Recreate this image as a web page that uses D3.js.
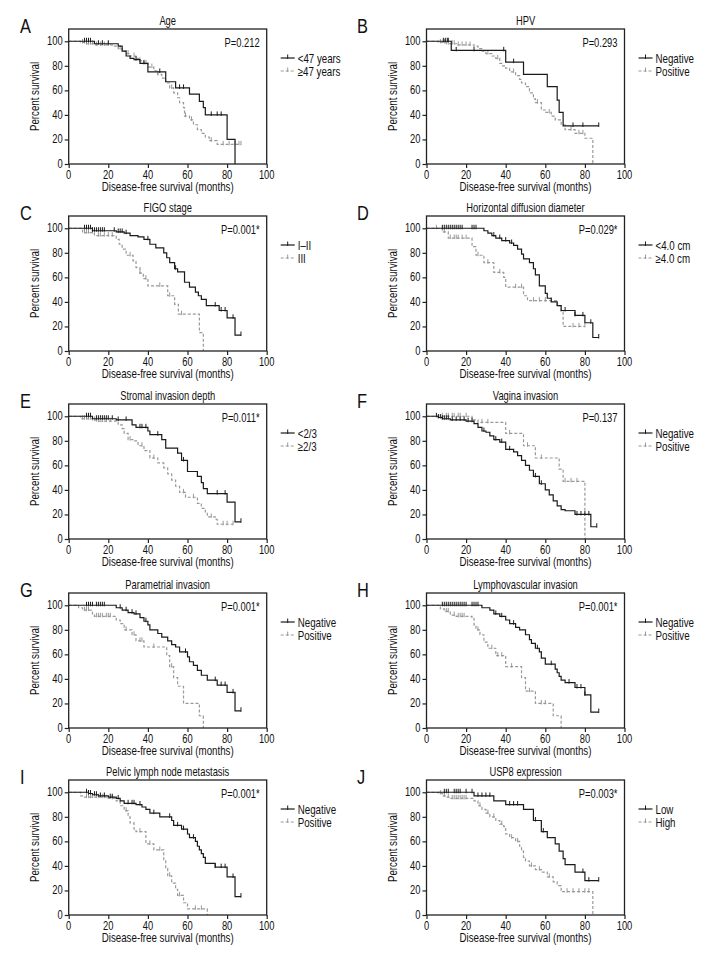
<!DOCTYPE html>
<html>
<head>
<meta charset="utf-8">
<script src="https://cdn.jsdelivr.net/npm/d3@7"></script>
<style>
body { margin: 0; background: #fff; }
text { font-family: "Liberation Sans", Arial, sans-serif; fill: #111; }
</style>
</head>
<body>
<script>
// step points [month, percent] and censor times
var ageYoung = [[0,100],[13,98],[25,96],[27,92],[29,88],[31,86],[33,85],[36,82],[40,75],[49,67],[54,62],[61,57],[66,51],[68,46],[69,40],[80,20],[84,0]];
var ageYoungCens = [8,9,10,11,15,17,20,34,38,46,56,58,72,75,77];
var ageOld = [[0,100],[6,99],[8,98],[13,97],[22,96],[25,94],[27,92],[29,90],[31,88],[34,86],[36,84],[38,82],[40,79],[43,76],[45,73],[47,70],[49,66],[51,62],[53,58],[55,54],[56,50],[58,46],[58.5,39],[61,36],[63,32],[65,28],[67,25],[69,22],[71,19],[75,16],[87,16]];
var ageOldCens = [7,9,10,11,12,14,16,18,20,26,30,33,36,39,42,45,52,59,62,72,78,81,84,86,87];

var hpvNeg = [[0,100],[12.5,92.6],[40,83],[49,73],[61,63],[66,52],[67,42],[69,31],[87,31]];
var hpvNegCens = [8.5,9.5,10.5,11,15,24,39,44,74,79,87];
var hpvPos = [[0,100],[6,99],[10,98],[16,97],[24,96],[26,94],[28,92],[30,90],[33,88],[35,86],[37,82],[38,80],[40,78],[42,75],[45,72],[47,69],[48,66],[50,63],[52,58],[54,53],[55,50],[58,44],[60,42],[63,39],[65,36],[68,32],[70,28],[75,25],[80,21],[84,0]];
var hpvPosCens = [7,9,11,13,14,16,18,20,22,31,36,44,56,62,73,77,79];

var figoI = [[0,100],[12,98],[24,97],[28,96],[31,94],[35,93],[38,91],[41,87],[44,84],[48,80],[49.5,76],[51,72],[53.5,67],[55,64.5],[58.5,56],[61,52],[64,48],[65.5,45],[67,42],[69.5,37],[76,33],[80,27],[84,13],[87,13]];
var figoICens = [8,9,10,11,12,13,14,15,16,17,18,23,25,26,27,29,40,54,74,77,79,83,87];
var figoIII = [[0,100],[7,96.5],[13,94],[24,91],[25.5,87],[27,83],[29,78],[32.5,73.5],[34,68],[36,63.5],[37.7,59],[40,53],[50,45],[53.5,38],[55.4,30],[66,15],[68,0]];
var figoIIICens = [8,9,10,12,15,16,18,20,22,31,36,39,46,51,57];

var diamSmall = [[0,100],[29,98],[31,96],[33,94],[35,92],[38,90],[42,88],[44,86],[46,83],[48,79],[49,75],[52,72],[54,67],[55,62],[57,53],[60,47],[61,43],[63,40],[66,37],[68,33],[75,29],[80,23],[84,11],[87,11]];
var diamSmallCens = [8,9,10,11,12,13,14,15,16,17,18,23,24,25,34,37,40,43,70,75,79,83,87];
var diamLarge = [[0,100],[8,97],[11,92],[23,85],[25,78],[29,72],[34,64],[39,60],[40,52],[49,45],[51,41],[66,37],[68,32],[69,20],[80,20]];
var diamLargeCens = [5,9,12,14,15,16,18,20,26,31,37,45,48,54,57,60,63,74,77,80];

var depthShallow = [[0,100],[12,98],[24,97],[32,93],[34,91],[40,88],[41,85],[47,81],[49,74],[55,70],[57,64],[60,55],[65,51],[67,46],[68,41],[70,37],[80,30],[84,14],[87,14]];
var depthShallowCens = [9,10,11,14,15,16,17,18,19,20,22,25,29,36,37,39,45,58,75,79,87];
var depthDeep = [[0,100],[6,98],[12,97],[14,96],[24,95],[25,93],[27,90],[28,86],[30,81],[33,80],[35,76],[38,72],[41,66],[45,62],[48,58],[50,53],[52,48],[54,43],[56,38],[59,34],[65,29],[67,25],[69,22],[70,18],[74,16],[75,12],[83,12]];
var depthDeepCens = [7,8,9,10,11,13,15,17,19,21,31,37,43,58,63,72,78,80,83];

var vagNeg = [[0,100],[6,99],[8,98],[12,97],[20,96],[24,94],[26,91],[28,88],[30,87],[32,84],[34,81],[37,79],[40,73],[44,71],[46,68],[48,64],[50,60],[52,56],[54,51],[57,45],[60,40],[62,36],[64,31],[66,27],[68,24],[70,23],[75,20],[83,10],[86,10]];
var vagNegCens = [5,6,7,8,9,10,11,13,15,17,19,21,23,29,35,38,42,55,58,76,78,80,82,86];
var vagPos = [[0,100],[23,97],[26,95],[40,86],[49,76],[55,66],[67,57],[69,47],[80,0]];
var vagPosCens = [8,10,11,13,14,16,17,20,28,31,42,51,58,70,73,76];

var paraNeg = [[0,100],[24,98],[27,96],[30,94],[33,93],[36,90],[38,87],[40,84],[41,80],[45,77],[47,74],[50,71],[52,68],[54,66],[56,62],[60,58],[61,54],[63,51],[65,47],[67,43],[70,39],[75,35],[80,29],[84,14],[87,14]];
var paraNegCens = [9,10,11,12,14,15,16,17,18,26,29,32,34,39,59,74,77,79,83,87];
var paraPos = [[0,100],[5,98],[7,96],[12,93],[13,91],[24,88],[26,85],[28,80],[32,76],[34,71],[38,66],[49.5,59],[51,50],[53,41],[55,34],[58,20],[66,10],[68,0]];
var paraPosCens = [8,9,10,14,15,16,17,19,20,21,29,33,36,37,43,52];

var lvsiNeg = [[0,100],[28,98],[32,96],[34,93],[37,91],[40,88],[42,85],[45,82],[47,80],[50,76],[52,72],[53,69],[55,65],[57,62],[58,57],[60,52],[65,48],[66,45],[67,42],[68,39],[70,37],[75,33],[80,27],[83,13],[87,13]];
var lvsiNegCens = [8,9,10,11,12,13,14,15,16,17,18,19,20,23,24,25,26,35,38,44,56,63,72,76,78,80,87];
var lvsiPos = [[0,100],[7,97],[9,95],[12,92],[15,91],[23,90],[24,84],[25,80],[27,76],[29,70],[31,65],[35,59],[40,50],[48,41],[50,30],[55,20],[64,10],[68,0]];
var lvsiPosCens = [10,11,14,16,17,18,19,26,33,36,38,43,52,58,60];

var pelvicNeg = [[0,100],[10,99],[12,98],[15,97],[20,96],[24,95],[26,93],[28,91],[34,90],[37,88],[39,86],[41,83],[46,80],[52,77],[53,73],[57,70],[60,66],[61,63],[64,60],[65,56],[66,53],[67,50],[68,47],[69,42],[74,39],[80,31],[84,15],[87,15]];
var pelvicNegCens = [9,10,11,13,14,16,18,21,22,25,30,32,33,36,43,51,55,58,63,74,77,79,83,87];
var pelvicPos = [[0,100],[6,97],[8,96],[20,95],[24,93],[26,89],[28,85],[30,80],[31,75],[33,70],[34,68],[39,58],[43,53],[48,45],[49,38],[50,32],[52,26],[54,21],[55,16],[58,10],[60,5],[70,0]];
var pelvicPosCens = [9,10,11,12,14,15,17,18,22,29,36,41,46,51,56,64,67];

var uspLow = [[0,100],[24,97],[34,93],[40,90],[49,86],[54,77],[58,68],[61,63],[65,58],[67,52],[69,46],[70,41],[75,35],[80,28],[87,28]];
var uspLowCens = [9,10,11,14,15,16,17,20,23,26,28,30,32,42,44,46,55,59,79,82,87];
var uspHigh = [[0,100],[6,99],[8,97],[10,96],[12,95],[24,93],[26,89],[28,86],[30,83],[32,80],[35,77],[37,74],[39,72],[40,66],[42,63],[45,60],[47,56],[48,52],[49,47],[50,44],[52,40],[55,37],[58,35],[61,31],[64,27],[66,24],[68,19],[84,0]];
var uspHighCens = [7,9,11,13,14,15,16,17,18,19,20,27,31,34,38,43,46,53,57,62,71,74,77,80,82];

var letters = ["A","B","C","D","E","F","G","H","I","J"];
var titles = ["Age","HPV","FIGO stage","Horizontal diffusion diameter","Stromal invasion depth","Vagina invasion","Parametrial invasion","Lymphovascular invasion","Pelvic lymph node metastasis","USP8 expression"];
var pValues = ["P=0.212","P=0.293","P=0.001*","P=0.029*","P=0.011*","P=0.137","P=0.001*","P=0.001*","P=0.001*","P=0.003*"];
var legendLabels = [["<47 years","\u226547 years"],["Negative","Positive"],["I\u2013II","III"],["<4.0 cm","\u22654.0 cm"],["<2/3","\u22652/3"],["Negative","Positive"],["Negative","Positive"],["Negative","Positive"],["Negative","Positive"],["Low","High"]];
var solidSeries = [[ageYoung,ageYoungCens],[hpvNeg,hpvNegCens],[figoI,figoICens],[diamSmall,diamSmallCens],[depthShallow,depthShallowCens],[vagNeg,vagNegCens],[paraNeg,paraNegCens],[lvsiNeg,lvsiNegCens],[pelvicNeg,pelvicNegCens],[uspLow,uspLowCens]];
var dashSeries = [[ageOld,ageOldCens],[hpvPos,hpvPosCens],[figoIII,figoIIICens],[diamLarge,diamLargeCens],[depthDeep,depthDeepCens],[vagPos,vagPosCens],[paraPos,paraPosCens],[lvsiPos,lvsiPosCens],[pelvicPos,pelvicPosCens],[uspHigh,uspHighCens]];
var xTicks = [0,20,40,60,80,100];
var yTicks = [0,20,40,60,80,100];

var w = 720, h = 960;
var colX = [68.7, 426.5], letterX = [20, 357];
var rowY = [29, 216, 404, 593, 780];
var pw = 198, ph = 135;
var squeeze = 0.78; // the figure uses a condensed face
var styles = [{color: "#1a1a1a", dash: null}, {color: "#999", dash: "3,2"}];

var svg = d3.select("body").append("svg")
    .attr("width", w)
    .attr("height", h);

function survAt(steps, t) {
    var s = steps[0][1];
    steps.forEach(function (d) { if (d[0] <= t) s = d[1]; });
    return s;
}

// condensed text: a narrowed group holding one text
function label(parent, x, y, str, size, anchor, rotate) {
    var t = "translate(" + x + "," + y + ")" + (rotate ? " rotate(-90)" : "") + " scale(" + squeeze + ",1)";
    return parent.append("g")
        .attr("transform", t)
        .append("text")
        .attr("text-anchor", anchor || "start")
        .attr("font-size", size + "px")
        .text(str);
}

titles.forEach(function (title, i) {
    var col = i % 2, row = Math.floor(i / 2);
    var g = svg.append("g")
        .attr("transform", "translate(" + colX[col] + "," + rowY[row] + ")");

    var x = d3.scaleLinear().domain([0, 100]).range([0, pw]);
    var y = d3.scaleLinear().domain([0, 110]).range([ph, 0]);

    var line = d3.line()
        .x(function (d) { return x(d[0]); })
        .y(function (d) { return y(d[1]); })
        .curve(d3.curveStepAfter);

    [dashSeries[i], solidSeries[i]].forEach(function (ser, k) {
        var st = styles[k === 0 ? 1 : 0];
        g.append("path")
            .attr("d", line(ser[0]))
            .attr("fill", "none")
            .attr("stroke", st.color)
            .attr("stroke-width", 1.2)
            .attr("stroke-dasharray", st.dash);
        g.selectAll(null)
            .data(ser[1])
            .enter()
            .append("line")
            .attr("x1", function (d) { return x(d); })
            .attr("x2", function (d) { return x(d); })
            .attr("y1", function (d) { return y(survAt(ser[0], d)) - 3.5; })
            .attr("y2", function (d) { return y(survAt(ser[0], d)) + 1; })
            .attr("stroke", st.color)
            .attr("stroke-width", 1);
    });

    g.append("rect")
        .attr("width", pw)
        .attr("height", ph)
        .attr("fill", "none")
        .attr("stroke", "#222")
        .attr("stroke-width", 1.3);

    var ax = g.append("g")
        .attr("transform", "translate(0," + ph + ")")
        .call(d3.axisBottom(x).tickValues(xTicks).tickSize(4).tickSizeOuter(0).tickFormat(""));
    var ay = g.append("g")
        .call(d3.axisLeft(y).tickValues(yTicks).tickSize(4).tickSizeOuter(0).tickFormat(""));
    [ax, ay].forEach(function (a) {
        a.select(".domain").remove();
        a.selectAll("line").attr("stroke", "#222").attr("stroke-width", 1.2);
    });
    xTicks.forEach(function (v) { label(g, x(v), ph + 15, v, 12, "middle"); });
    yTicks.forEach(function (v) { label(g, -6, y(v) + 4, v, 12, "end"); });

    label(g, pw / 2, -4, title, 12, "middle");
    label(g, pw - 7, 18, pValues[i], 12, "end");
    label(g, pw / 2, ph + 27, "Disease-free survival (months)", 12.5, "middle");
    label(g, -30, ph / 2, "Percent survival", 12.5, "middle", true);

    legendLabels[i].forEach(function (lab, k) {
        var st = styles[k];
        var ly = 29 + k * 13;
        g.append("line")
            .attr("x1", pw + 14).attr("x2", pw + 28)
            .attr("y1", ly).attr("y2", ly)
            .attr("stroke", st.color)
            .attr("stroke-width", 1.2)
            .attr("stroke-dasharray", st.dash);
        g.append("line")
            .attr("x1", pw + 21).attr("x2", pw + 21)
            .attr("y1", ly - 3.5).attr("y2", ly + 1)
            .attr("stroke", st.color);
        label(g, pw + 31, ly + 4.5, lab, 12.5, "start");
    });

    label(svg, letterX[col], rowY[row] + 4, letters[i], 21, "start");
});
</script>
</body>
</html>
